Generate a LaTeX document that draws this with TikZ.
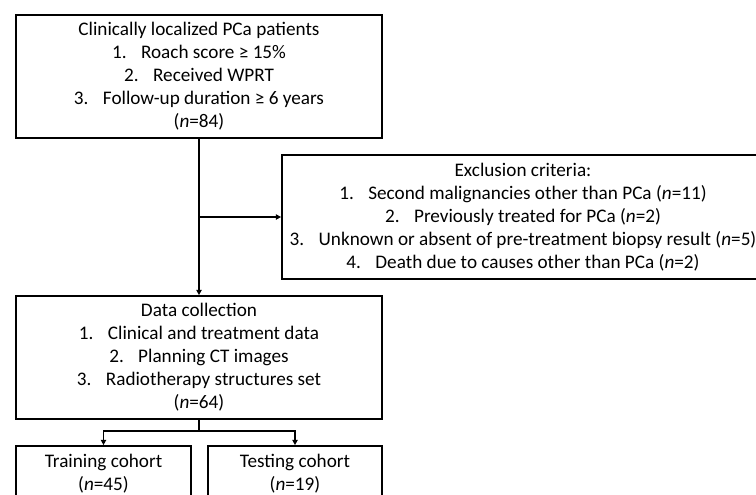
\documentclass[tikz,border=0pt]{standalone}
\usepackage{fontspec}
\setmainfont{Carlito}
\usetikzlibrary{arrows.meta}

\tikzset{
  box/.style={draw=black,line width=1.3pt,align=center,inner sep=0pt,
    font=\fontsize{14.4}{17.25}\selectfont},
  arr/.style={line width=1.2pt,-{Triangle[length=4pt,width=4pt]}}
}
\newcommand{\itemgap}{\hspace{0.75em}}

\begin{document}
\begin{tikzpicture}[x=0.75pt,y=-0.75pt]
    \useasboundingbox (0,0) rectangle (756,494);
    \clip (0,0) rectangle (756,494);

    \node[box,minimum width=274.5pt,minimum height=92.25pt] (patients) at (199,76.5)
      {Clinically localized PCa patients\\
       1.\itemgap Roach score ≥ 15\%\\
       2.\itemgap Received WPRT\\
       3.\itemgap Follow-up duration ≥ 6 years\\
       (\textit{n}=84)};
    \node[box,minimum width=361.5pt,minimum height=93pt] (excl) at (523,217)
      {Exclusion criteria:\\
       1.\itemgap Second malignancies other than PCa (\textit{n}=11)\\
       2.\itemgap Previously treated for PCa (\textit{n}=2)\\
       3.\itemgap Unknown or absent of pre-treatment biopsy result (\textit{n}=5)\\
       4.\itemgap Death due to causes other than PCa (\textit{n}=2)};
    \node[box,minimum width=274.5pt,minimum height=92.25pt] (data) at (199,357.5)
      {Data collection\\
       1.\itemgap Clinical and treatment data\\
       2.\itemgap Planning CT images\\
       3.\itemgap Radiotherapy structures set\\
       (\textit{n}=64)};
    \node[box,minimum width=131.25pt,minimum height=41.25pt] (train) at (103.5,473.5)
      {Training cohort\\(\textit{n}=45)};
    \node[box,minimum width=130.5pt,minimum height=41.25pt] (test) at (295,473.5)
      {Testing cohort\\(\textit{n}=19)};

    \coordinate (branch) at (patients.south |- excl.west);
    \coordinate (split) at (199,431);

    \draw[arr] (patients.south) -- (data.north);
    \draw[arr] (branch) -- (excl.west);
    \draw[line width=1.2pt] (data.south) -- (split);
    \draw[arr] (split) -| (train.north);
    \draw[arr] (split) -| (test.north);

  \end{tikzpicture}
\end{document}
